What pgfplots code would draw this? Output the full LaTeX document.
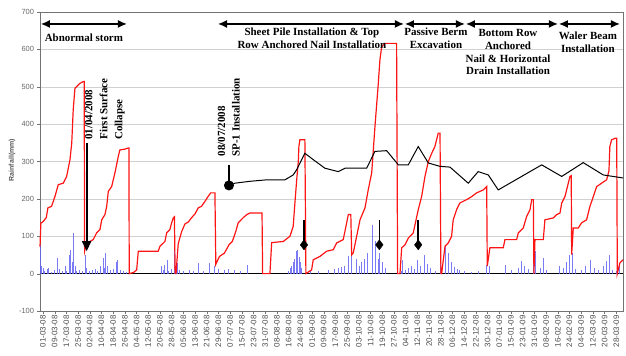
\documentclass[border=0pt]{standalone}
\usepackage{fontspec}
\setmainfont{Liberation Serif}
\newfontfamily\arial{Liberation Sans}
\usepackage{pgfplots}
\pgfplotsset{compat=1.18}
\usetikzlibrary{arrows.meta}
\definecolor{bluebar}{RGB}{100,100,245}
\definecolor{redline}{RGB}{255,20,20}
\begin{document}
\begin{tikzpicture}
\begin{axis}[
  at={(0,0)}, anchor=south west,
  scale only axis, width=583bp, height=299bp,
  xmin=-2, xmax=396.6, ymin=-100, ymax=700,
  xtick={0,8,...,392},
  xticklabels={01-03-08,09-03-08,17-03-08,25-03-08,02-04-08,10-04-08,18-04-08,26-04-08,04-05-08,12-05-08,20-05-08,28-05-08,05-06-08,13-06-08,21-06-08,29-06-08,07-07-08,15-07-08,23-07-08,31-07-08,08-08-08,16-08-08,24-08-08,01-09-08,09-09-08,17-09-08,25-09-08,03-10-08,11-10-08,19-10-08,27-10-08,04-11-08,12-11-08,20-11-08,28-11-08,06-12-08,14-12-08,22-12-08,30-12-08,07-01-09,15-01-09,23-01-09,31-01-09,08-02-09,16-02-09,24-02-09,04-03-09,12-03-09,20-03-09,28-03-09},
  x tick label style={font=\arial\fontsize{8}{8}\selectfont, color=black!70, rotate=90, anchor=east, inner sep=1.5pt},
  ytick={-100,0,...,700},
  yticklabels={-100,0,100,200,300,400,500,600,700},
  y tick label style={font=\arial\fontsize{7.5}{7.5}\selectfont, color=black!60},
  tick align=outside, major tick length=2.5bp,
  xtick pos=left, ytick pos=left,
  ymajorgrids, grid style={black!18, line width=0.5pt},
  axis line style={black!55},
  tick style={black!55},
  ylabel={Rainfall(mm)},
  ylabel style={at={(axis description cs:-0.048,0.505)}, anchor=center, font=\arial\bfseries\fontsize{7}{7}\selectfont, color=black!65},
  clip=false,
]
% zero line
\addplot[black, line width=0.6pt] coordinates {(-2,0) (396.6,0)};
% daily rainfall
\addplot[ycomb, bluebar, line width=0.7pt, opacity=0.85] coordinates {
(-1.8,77) (-1,20) (0,15) (1,8) (3,12) (4,16) (6,5) (8,10) (10,43) (11,12) (13,6) (15,20) (16,8) (18,51) (19,64) (20,30) (21,110) (22,20) (23,8) (25,10) (27,6) (29,51) (30,15) (32,8) (34,10) (36,12) (37,8) (39,20) (41,43) (42,15) (43,56) (44,20) (46,10) (48,12) (50,30) (51,37) (53,10) (55,6) (57,4)
(81,20) (82,10) (83,24) (85,37) (86,8) (88,12) (90,64) (91,15) (92,29) (93,10) (96,8) (100,10) (103,6) (106,29) (110,8) (114,29) (117,20) (120,12) (124,10) (127,12) (131,10) (135,6) (140,24)
(168,8) (169,15) (170,20) (171,30) (172,40) (173,60) (174,64) (175,45) (176,30) (177,15)
(183,6) (188,8) (195,10) (199,12) (202,15) (204,18) (206,20) (209,46) (211,55)
(214,40) (216,20) (218,30) (220,40) (222,55) (225,131) (227,86) (229,40) (230,56) (232,30) (234,15)
(245,8) (246,37) (248,10) (250,15) (252,20) (254,12) (256,37) (258,20) (261,51) (263,25) (265,15) (268,8) (272,29)
(275,77) (277,55) (279,30) (281,18) (283,12) (285,10) (288,8) (293,5) (298,6) (303,24) (305,20)
(316,24) (320,10) (325,15) (327,33) (329,20) (332,12) (335,55) (337,60) (340,15) (342,42) (344,10)
(353,20) (356,15) (358,30) (360,51) (362,55) (364,12) (368,10) (371,20) (374,37) (377,15) (380,10) (383,20) (385,33) (387,51) (389,10) (392,8) (394,29)
};
% cumulative rainfall
\addplot[redline, line width=1.2pt] coordinates {
(-2,72) (-1.4,136) (-0.9,136) (0.3,140) (2.3,150) (3.4,176) (5.9,180) (8.2,206) (10.5,238) (13.9,242) (16.2,260) (18.5,305) (19.7,349) (20.7,438) (21.9,496) (25.3,509) (27.6,514) (28.2,514) (28.5,60)
(29.5,77) (32,86) (34.4,91) (36.7,109) (39,118) (40.2,144) (42.4,158) (43.6,180) (44.7,220) (47,233) (49.2,269) (51.5,313) (52.6,331) (56,333) (58.3,336) (58.8,336) (59,0)
(62,3) (64.1,10) (65.2,60) (78.8,60) (80,73) (83.4,86) (84.6,109) (86.8,118) (88,136) (89.1,149) (89.9,152) (90.4,0)
(91,0) (92.5,80) (94.8,112) (97.1,133) (99.4,138) (101.7,150) (104,160) (106.2,176) (108.4,180) (110.7,193) (112.7,205) (114.7,216) (117.6,216) (118.2,25)
(120.7,46) (124.1,55) (127.2,77) (129.5,86) (131.8,112) (133.5,136) (137,150) (139.4,158) (141.5,162) (149.8,162) (150.2,0)
(155.2,0) (156.4,83) (164.3,86) (168.9,100) (171.1,126) (172.3,190) (173.5,251) (174.6,300) (175,340) (175.7,358) (179.1,358) (179.8,0)
(183.7,10) (184.8,37) (189.4,46) (194,60) (198.5,64) (200.8,82) (205.3,91) (206.5,113) (208.8,158) (210.5,158) (211.1,50) (212.2,56) (214.5,100) (216.8,144) (220.2,176) (222.4,224) (224.8,270) (227,393) (229.3,509) (230.4,572) (231.6,607) (233.8,616) (241.8,616) (242.5,0)
(244.1,0) (245.3,69) (247.5,77) (249.8,95) (253.2,109) (254.4,131) (256.6,171) (258.9,206) (261.2,260) (263.5,300) (265.8,322) (268,340) (270.3,376) (271.5,376) (272.1,0)
(272.6,0) (274.9,73) (277.1,82) (279.4,100) (280.5,144) (282.8,171) (285.1,189) (289.7,198) (293.1,206) (296.5,216) (301.1,224) (303.4,233) (303.8,20)
(305.6,69) (314.7,69) (315.9,91) (323.9,91) (325,109) (328.4,122) (330.7,153) (333,171) (334.2,198) (335.3,198) (335.7,0)
(336.4,91) (342.1,91) (343.2,144) (348.9,149) (351.3,158) (353.5,162) (354.7,189) (356.9,206) (359.2,242) (360.3,260) (361.2,262) (361.5,51)
(362.6,122) (366,122) (368.3,136) (371.7,144) (374,180) (376.3,206) (378.6,233) (382,242) (385.4,251) (387,275) (387.6,340) (388.8,358) (391.1,362) (392.3,362) (392.7,0) (394.5,29) (396.6,37)
};
% black measured line
\addplot[black, line width=1pt, mark=*, mark size=4.5bp, mark indices={1}] coordinates {
(127.2,236) (131.3,242) (141.5,247) (153,251) (165.5,251) (171.1,264) (173.5,278) (179.1,322) (184.8,305) (192.8,282) (201.9,273) (206.5,282) (221.3,282) (227,327) (235,329) (243,291) (249.8,291) (256.6,340) (263.5,296) (271.5,287) (278.3,285) (290.8,242) (297.6,273) (304.5,264) (311.3,224) (341,291) (354.7,260) (369.4,297) (383.1,264) (396.6,256)
};
% diamond markers
\addplot[only marks, black, mark=diamond*, mark size=5bp,
  error bars/.cd, y dir=plus, y fixed=67, error mark=none,
  error bar style={line width=1.5pt, black}] coordinates {(178.5,77) (230,77) (256.6,77)};

% annotations
\tikzset{ph/.style={line width=1.4pt, {Latex[length=9bp,width=8bp]}-{Latex[length=9bp,width=8bp]}}}
\draw[ph] (axis cs:-1.4,668) -- (axis cs:57.4,668);
\draw[ph] (axis cs:119.7,668) -- (axis cs:246.8,668);
\draw[ph] (axis cs:247.5,668) -- (axis cs:288.5,668);
\draw[ph] (axis cs:289.2,668) -- (axis cs:352.1,668);
\draw[ph] (axis cs:352.8,668) -- (axis cs:394.5,668);
\tikzset{pt/.style={font=\bfseries\fontsize{11}{13}\selectfont, align=center, inner sep=0pt}}
\node[pt] at (axis cs:28,631) {Abnormal storm};
\node[pt] at (axis cs:183.9,631) {Sheet Pile Installation \& Top\\Row Anchored Nail Installation};
\node[pt] at (axis cs:268.7,629) {Passive Berm\\Excavation};
\node[pt] at (axis cs:318,593) {Bottom Row\\Anchored\\Nail \& Horizontal\\Drain Installation};
\node[pt] at (axis cs:372.6,618) {Waler Beam\\Installation};
\node[rotate=90, anchor=west, align=left, inner sep=0pt, font=\bfseries\fontsize{11}{15}\selectfont] at (axis cs:42.4,358) {01/04/2008\\First Surface\\Collapse};
\node[rotate=90, anchor=west, align=left, inner sep=0pt, font=\bfseries\fontsize{11}{14.5}\selectfont] at (axis cs:127.1,313) {08/07/2008\\SP-1 Installation};
\draw[line width=2pt, -{Triangle[length=10bp,width=9bp]}] (axis cs:29.9,349) -- (axis cs:29.9,60);
\draw[line width=1.4pt] (axis cs:127.2,236) -- (axis cs:127.2,291);
\end{axis}
\pgfresetboundingbox
\useasboundingbox (-40bp,-45bp) rectangle (586bp,311bp);
\end{tikzpicture}
\end{document}
